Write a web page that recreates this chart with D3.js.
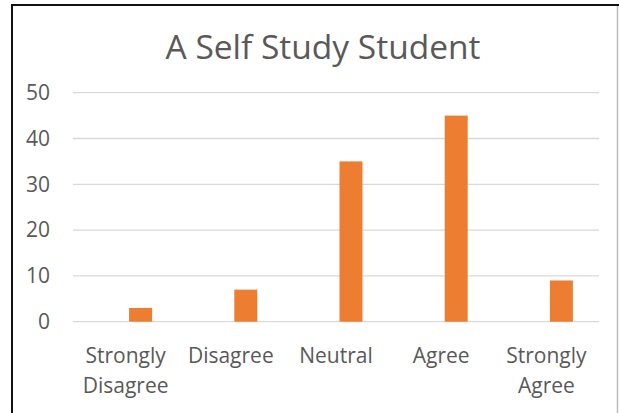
<!DOCTYPE html>
<html lang="en">
<head>
<meta charset="utf-8">
<title>A Self Study Student</title>
<script src="https://d3js.org/d3.v7.min.js"></script>
<style>
  body { margin: 0; background: white; }
  text { font-family: "Open Sans", sans-serif; fill: #595959; }
</style>
</head>
<body>
<div id="chart"></div>
<script>
// data
var categories = [["Strongly", "Disagree"], ["Disagree"], ["Neutral"], ["Agree"], ["Strongly", "Agree"]];
var catKeys = ["Strongly Disagree", "Disagree", "Neutral", "Agree", "Strongly Agree"];
var values = [3, 7, 35, 45, 9];
var yTicks = [0, 10, 20, 30, 40, 50];
var title = "A Self Study Student";

// layout
var w = 619, h = 413;
var plotLeft = 73, plotRight = 599, plotTop = 92.7, plotBottom = 321.7;

var svg = d3.select("#chart").append("svg")
  .attr("width", w).attr("height", h);

var x = d3.scaleBand().domain(catKeys).range([plotLeft, plotRight]).padding(0);
var y = d3.scaleLinear().domain([0, 50]).range([plotBottom, plotTop]);

// frame
svg.append("line").attr("x1", 12).attr("y1", 5).attr("x2", 12).attr("y2", h)
  .attr("stroke", "#111").attr("stroke-width", 2);
svg.append("line").attr("x1", 11).attr("y1", 5).attr("x2", w).attr("y2", 5)
  .attr("stroke", "#111").attr("stroke-width", 2);
svg.append("line").attr("x1", 617.5).attr("y1", 6).attr("x2", 617.5).attr("y2", h)
  .attr("stroke", "#bbb").attr("stroke-width", 1.5);

// title
svg.append("text")
  .attr("x", 323).attr("y", 59.3)
  .attr("text-anchor", "middle")
  .style("font-size", "33.5px")
  .text(title);

// gridlines + y labels
svg.selectAll("line.grid").data(yTicks).enter().append("line")
  .attr("class", "grid")
  .attr("x1", plotLeft).attr("x2", plotRight)
  .attr("y1", function(d) { return y(d); })
  .attr("y2", function(d) { return y(d); })
  .attr("stroke", "#d9d9d9").attr("stroke-width", 1.3);

svg.selectAll("text.ytick").data(yTicks).enter().append("text")
  .attr("class", "ytick")
  .attr("x", 50)
  .attr("y", function(d) { return y(d); })
  .attr("dy", "0.35em")
  .attr("text-anchor", "end")
  .style("font-size", "21px")
  .text(function(d) { return d; });

// bars (offset like the second series of a clustered excel chart)
var barW = 23, barOff = 15;
svg.selectAll("rect.bar").data(values).enter().append("rect")
  .attr("class", "bar")
  .attr("x", function(d, i) { return x(catKeys[i]) + x.bandwidth() / 2 + barOff - barW / 2; })
  .attr("y", function(d) { return y(d); })
  .attr("width", barW)
  .attr("height", function(d) { return y(0) - y(d); })
  .attr("fill", "#ED7D31");

// category labels
var lab = svg.selectAll("text.xlab").data(categories).enter().append("text")
  .attr("class", "xlab")
  .attr("text-anchor", "middle")
  .style("font-size", "21px");
lab.selectAll("tspan").data(function(d, i) { return d.map(function(s) { return {s: s, i: i}; }); })
  .enter().append("tspan")
  .attr("x", function(d) { return x(catKeys[d.i]) + x.bandwidth() / 2; })
  .attr("y", function(d, j) { return 362.5 + j * 30; })
  .text(function(d) { return d.s; });
</script>
</body>
</html>
